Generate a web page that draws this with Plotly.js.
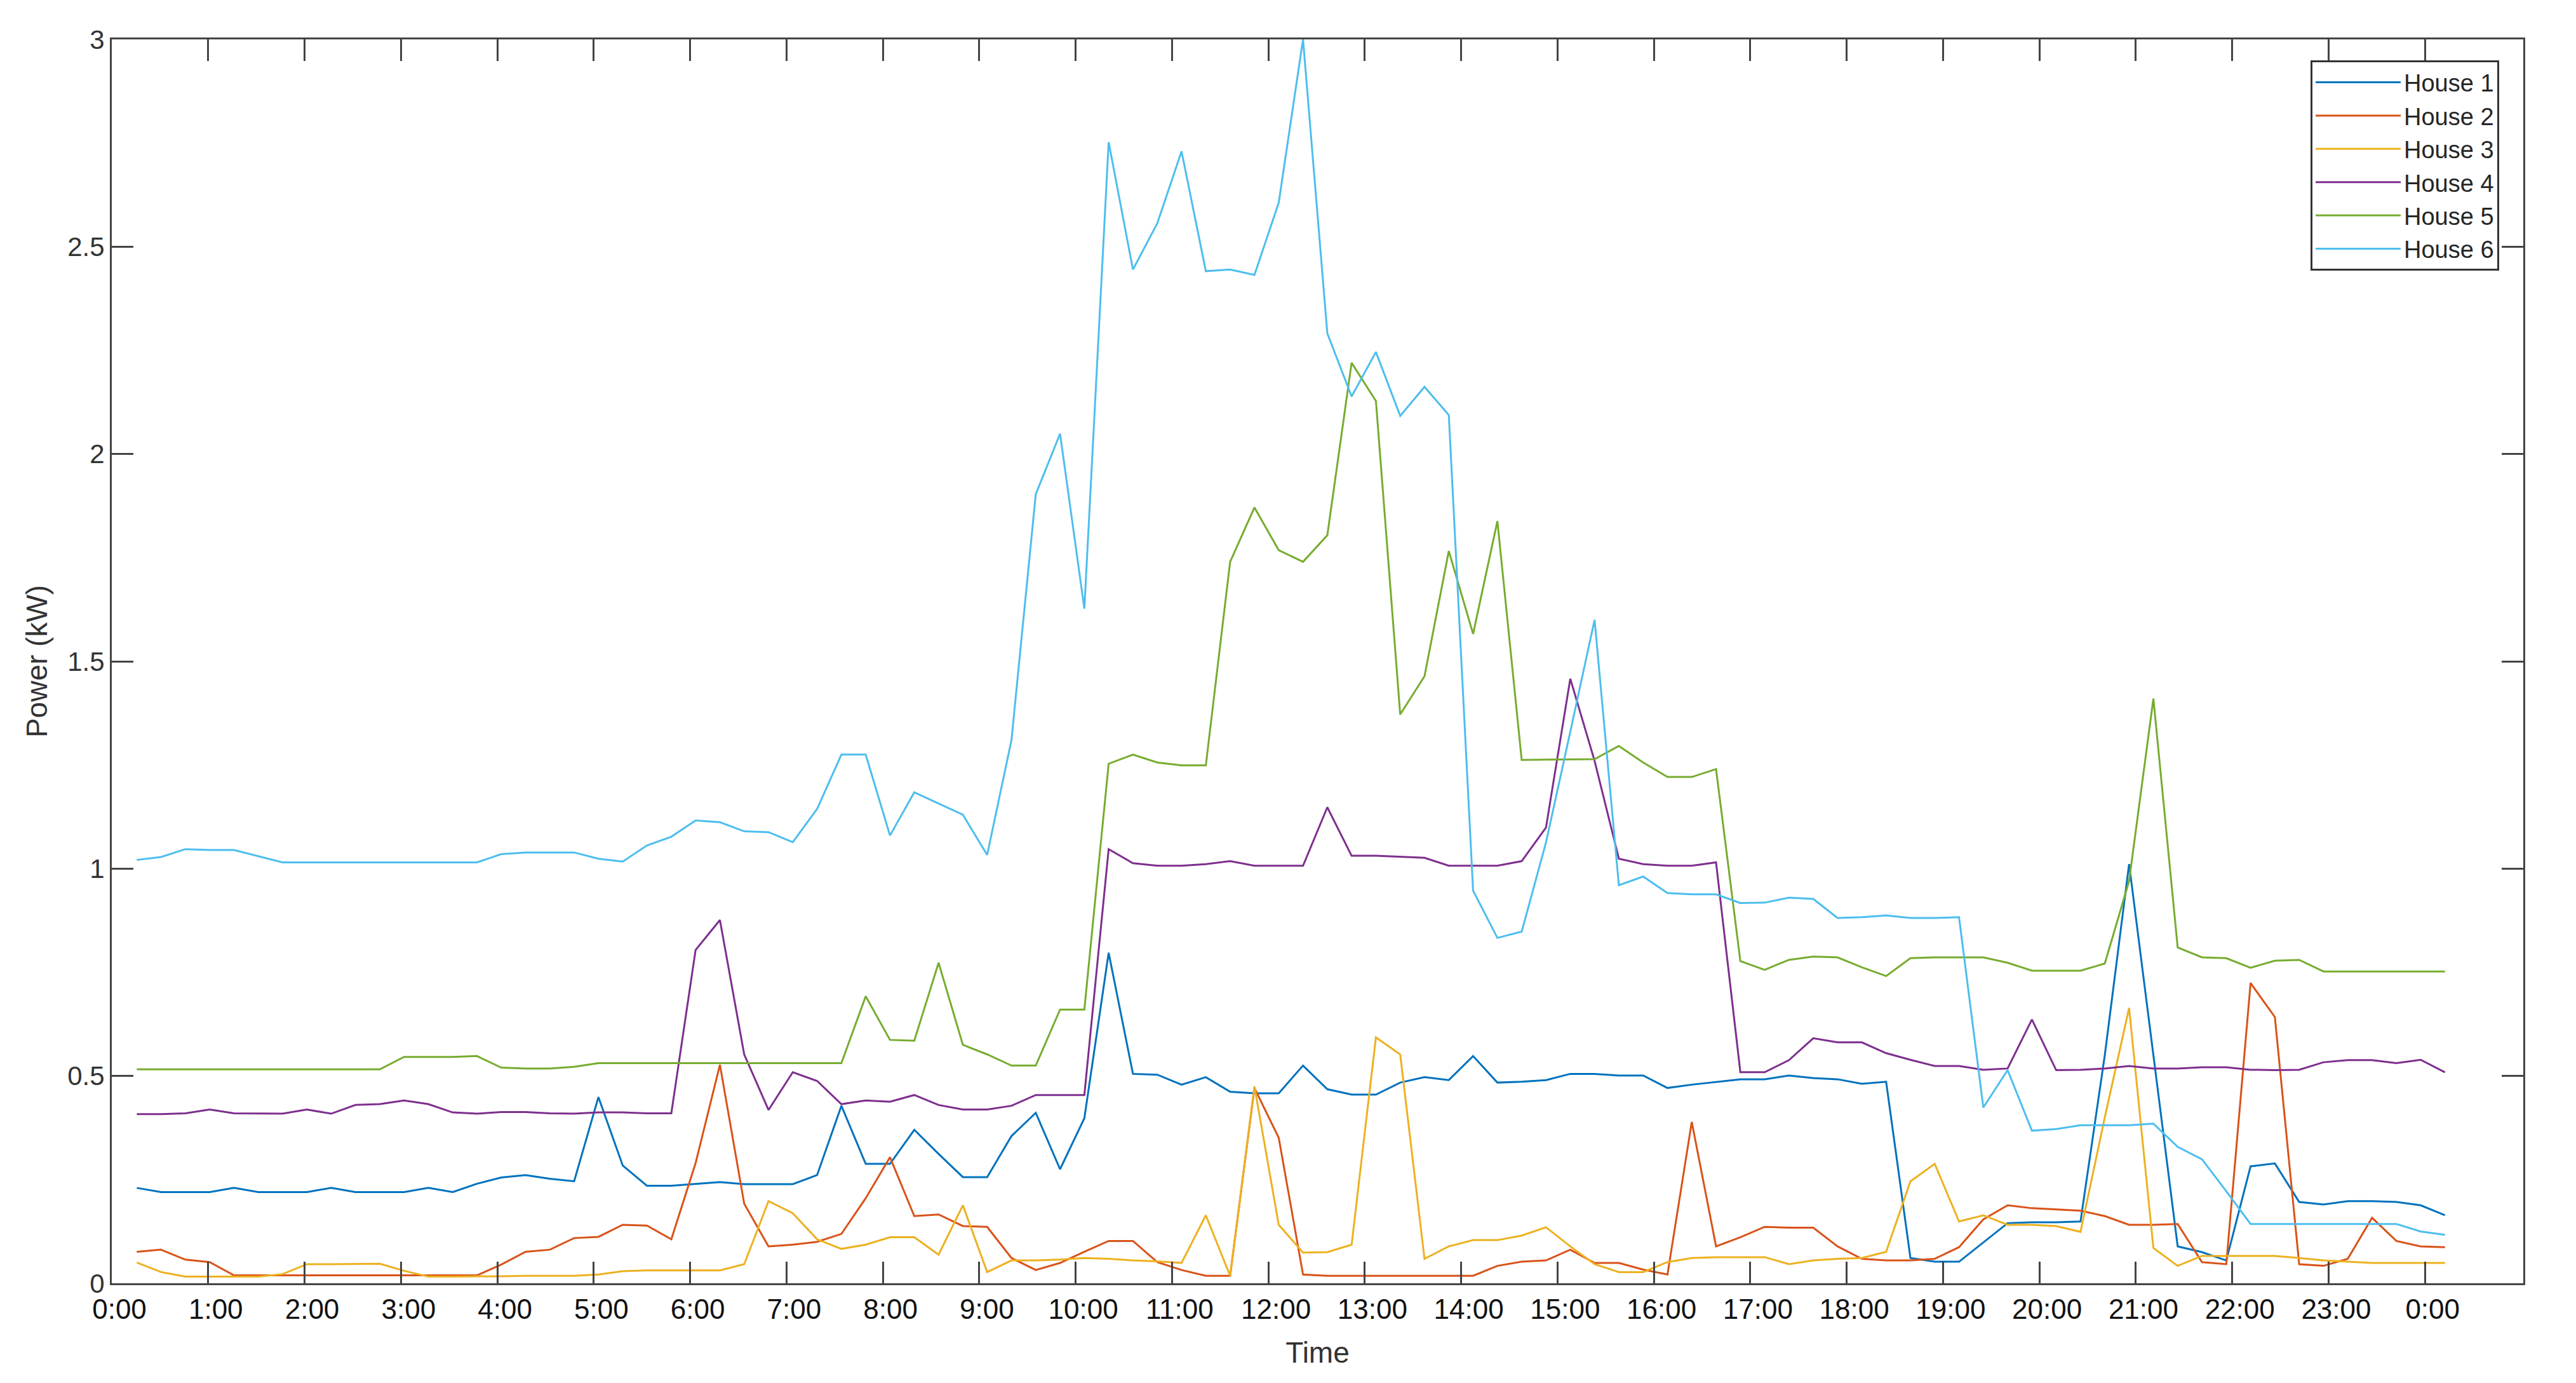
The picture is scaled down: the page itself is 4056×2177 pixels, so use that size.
<!DOCTYPE html>
<html>
<head>
<meta charset="utf-8">
<script src="https://cdn.plot.ly/plotly-3.0.1.min.js"></script>
<style>
  html, body { margin: 0; padding: 0; background: #fff; }
</style>
</head>
<body>
<div id="plot" style="width:4056px;height:2177px"></div>
<script>
// 15-minute readings, 0:15 ... 24:00 (96 samples per house), values in kW
var house1 = [
  0.23, 0.22, 0.22, 0.22, 0.23, 0.22, 0.22, 0.22,
  0.23, 0.22, 0.22, 0.22, 0.23, 0.22, 0.24, 0.255,
  0.261, 0.252, 0.246, 0.449, 0.284, 0.235, 0.235, 0.239,
  0.244, 0.239, 0.239, 0.239, 0.261, 0.428, 0.288, 0.288,
  0.37, 0.312, 0.256, 0.256, 0.355, 0.411, 0.275, 0.398,
  0.797, 0.505, 0.503, 0.479, 0.497, 0.462, 0.458, 0.458,
  0.525, 0.468, 0.455, 0.455, 0.484, 0.497, 0.49, 0.548,
  0.484, 0.486, 0.49, 0.505, 0.505, 0.501, 0.501, 0.471,
  0.479, 0.486, 0.492, 0.492, 0.501, 0.495, 0.492, 0.481,
  0.486, 0.061, 0.052, 0.052, 0.098, 0.145, 0.147, 0.147,
  0.149, 0.55, 1.011, 0.55, 0.089, 0.075, 0.055, 0.282,
  0.289, 0.196, 0.19, 0.198, 0.198, 0.196, 0.188, 0.164
];
var house2 = [
  0.076, 0.081, 0.057, 0.051, 0.019, 0.019, 0.019, 0.019,
  0.019, 0.019, 0.019, 0.019, 0.019, 0.019, 0.019, 0.045,
  0.076, 0.081, 0.109, 0.112, 0.141, 0.139, 0.106, 0.29,
  0.527, 0.192, 0.089, 0.093, 0.1, 0.119, 0.205, 0.304,
  0.162, 0.166, 0.138, 0.136, 0.061, 0.032, 0.049, 0.076,
  0.102, 0.102, 0.051, 0.032, 0.018, 0.018, 0.471, 0.351,
  0.021, 0.018, 0.018, 0.018, 0.018, 0.018, 0.018, 0.018,
  0.042, 0.052, 0.055, 0.081, 0.049, 0.049, 0.033, 0.021,
  0.389, 0.089, 0.111, 0.136, 0.134, 0.134, 0.089, 0.059,
  0.055, 0.055, 0.059, 0.087, 0.154, 0.188, 0.181, 0.178,
  0.175, 0.162, 0.141, 0.141, 0.143, 0.051, 0.046, 0.724,
  0.642, 0.046, 0.042, 0.059, 0.158, 0.102, 0.089, 0.087
];
var house3 = [
  0.05, 0.027, 0.016, 0.016, 0.016, 0.016, 0.022, 0.046,
  0.046, 0.046, 0.047, 0.03, 0.016, 0.016, 0.016, 0.017,
  0.018, 0.018, 0.018, 0.021, 0.029, 0.031, 0.031, 0.031,
  0.031, 0.046, 0.198, 0.169, 0.106, 0.083, 0.093, 0.111,
  0.111, 0.069, 0.188, 0.027, 0.055, 0.055, 0.057, 0.061,
  0.059, 0.055, 0.053, 0.049, 0.164, 0.018, 0.475, 0.141,
  0.074, 0.075, 0.093, 0.593, 0.552, 0.059, 0.089, 0.104,
  0.104, 0.115, 0.135, 0.089, 0.046, 0.027, 0.027, 0.051,
  0.061, 0.063, 0.063, 0.063, 0.046, 0.055, 0.059, 0.061,
  0.076, 0.246, 0.288, 0.149, 0.164, 0.141, 0.141, 0.138,
  0.124, 0.40, 0.664, 0.085, 0.042, 0.066, 0.066, 0.066,
  0.066, 0.061, 0.055, 0.052, 0.049, 0.049, 0.049, 0.049
];
var house4 = [
  0.408, 0.408, 0.41, 0.419, 0.41, 0.409, 0.409, 0.419,
  0.409, 0.43, 0.432, 0.441, 0.432, 0.412, 0.409, 0.413,
  0.413, 0.41, 0.409, 0.412, 0.412, 0.41, 0.41, 0.804,
  0.876, 0.552, 0.418, 0.509, 0.488, 0.432, 0.441, 0.438,
  0.454, 0.43, 0.419, 0.419, 0.428, 0.454, 0.454, 0.454,
  1.047, 1.013, 1.007, 1.007, 1.011, 1.018, 1.007, 1.007,
  1.007, 1.148, 1.031, 1.031, 1.028, 1.026, 1.007, 1.007,
  1.007, 1.018, 1.099, 1.458, 1.26, 1.024, 1.011, 1.007,
  1.007, 1.015, 0.509, 0.509, 0.538, 0.591, 0.581, 0.581,
  0.555, 0.539, 0.524, 0.524, 0.515, 0.518, 0.636, 0.514,
  0.515, 0.518, 0.524, 0.518, 0.518, 0.521, 0.521, 0.515,
  0.514, 0.515, 0.533, 0.538, 0.538, 0.531, 0.539, 0.509
];
var house5 = [
  0.516, 0.516, 0.516, 0.516, 0.516, 0.516, 0.516, 0.516,
  0.516, 0.516, 0.516, 0.546, 0.546, 0.546, 0.548, 0.52,
  0.518, 0.518, 0.522, 0.531, 0.531, 0.531, 0.531, 0.531,
  0.531, 0.531, 0.531, 0.531, 0.531, 0.531, 0.692, 0.587,
  0.585, 0.773, 0.575, 0.552, 0.525, 0.525, 0.66, 0.66,
  1.253, 1.275, 1.256, 1.249, 1.249, 1.74, 1.871, 1.768,
  1.74, 1.804, 2.22, 2.128, 1.372, 1.464, 1.766, 1.566,
  1.838, 1.262, 1.263, 1.263, 1.264, 1.296, 1.256, 1.221,
  1.221, 1.24, 0.777, 0.756, 0.78, 0.788, 0.786, 0.762,
  0.741, 0.784, 0.786, 0.786, 0.786, 0.773, 0.754, 0.754,
  0.754, 0.771, 0.97, 1.41, 0.81, 0.786, 0.784, 0.761,
  0.778, 0.78, 0.752, 0.752, 0.752, 0.752, 0.752, 0.752
];
var house6 = [
  1.021, 1.028, 1.047, 1.045, 1.045, 1.03, 1.015, 1.015,
  1.015, 1.015, 1.015, 1.015, 1.015, 1.015, 1.015, 1.035,
  1.039, 1.039, 1.039, 1.024, 1.017, 1.056, 1.077, 1.116,
  1.112, 1.09, 1.088, 1.064, 1.144, 1.275, 1.275, 1.08,
  1.184, 1.157, 1.13, 1.033, 1.31, 1.903, 2.049, 1.627,
  2.752, 2.445, 2.556, 2.73, 2.441, 2.445, 2.432, 2.606,
  3.0, 2.291, 2.139, 2.246, 2.092, 2.162, 2.094, 0.947,
  0.833, 0.848, 1.063, 1.33, 1.6, 0.96, 0.981, 0.941,
  0.938, 0.938, 0.917, 0.918, 0.93, 0.927, 0.881, 0.883,
  0.887, 0.881, 0.881, 0.883, 0.424, 0.514, 0.368, 0.372,
  0.381, 0.381, 0.381, 0.385, 0.329, 0.299, 0.222, 0.143,
  0.143, 0.143, 0.143, 0.143, 0.143, 0.143, 0.125, 0.117
];

var houseNames = ['House 1', 'House 2', 'House 3', 'House 4', 'House 5', 'House 6'];

var hourLabels = ['0:00', '1:00', '2:00', '3:00', '4:00', '5:00', '6:00', '7:00',
  '8:00', '9:00', '10:00', '11:00', '12:00', '13:00', '14:00', '15:00', '16:00',
  '17:00', '18:00', '19:00', '20:00', '21:00', '22:00', '23:00', '0:00'];

// matlab default line colours
var colors = ['#0072BD', '#D95319', '#EDB120', '#7E2F8E', '#77AC30', '#4DBEEE'];

// x is the sample number (1..96); the hour ticks of the original figure sit
// a little under 4 samples apart, so place them the same way
var samples = house1.map(function (_, i) { return i + 1; });
var perTick = 3.967;
var tickOffset = -0.03;
var tickPos = hourLabels.map(function (_, k) { return tickOffset + k * perTick; });

var series = [house1, house2, house3, house4, house5, house6];
var traces = series.map(function (vals, i) {
  return {
    x: samples,
    y: vals,
    type: 'scatter',
    mode: 'lines',
    name: houseNames[i],
    line: { color: colors[i], width: 3 }
  };
});

var axisColor = '#444';
var font = 'Liberation Sans, Arial, Helvetica, sans-serif';

var layout = {
  width: 4056,
  height: 2177,
  margin: { l: 176, r: 83, t: 62, b: 157 },
  paper_bgcolor: '#fff',
  plot_bgcolor: '#fff',
  font: { family: font, color: '#262626' },
  showlegend: true,
  legend: {
    x: 0.99, y: 0.983, xanchor: 'right', yanchor: 'top',
    bgcolor: '#fff', bordercolor: '#333', borderwidth: 3,
    font: { size: 38, color: '#262626' },
    itemwidth: 134,
    tracegroupgap: 0
  },
  xaxis: {
    range: [tickOffset, tickOffset + 25.02 * perTick],
    tickmode: 'array',
    tickvals: tickPos,
    ticktext: hourLabels,
    ticklabelshift: 12,
    ticks: 'inside', ticklen: 34, tickwidth: 3, tickcolor: axisColor,
    showline: true, linecolor: axisColor, linewidth: 3, mirror: 'ticks',
    showgrid: false, zeroline: false,
    tickfont: { size: 44, color: '#111' },
    title: { text: 'Time', font: { size: 46, color: '#333' }, standoff: 30 }
  },
  yaxis: {
    range: [0, 3],
    tick0: 0, dtick: 0.5,
    ticks: 'inside', ticklen: 34, tickwidth: 3, tickcolor: axisColor,
    showline: true, linecolor: axisColor, linewidth: 3, mirror: 'ticks',
    showgrid: false, zeroline: false,
    tickfont: { size: 42, color: '#333' },
    title: { text: 'Power (kW)', font: { size: 46, color: '#333' }, standoff: 18 }
  }
};

Plotly.newPlot('plot', traces, layout, { staticPlot: true });
</script>
</body>
</html>
